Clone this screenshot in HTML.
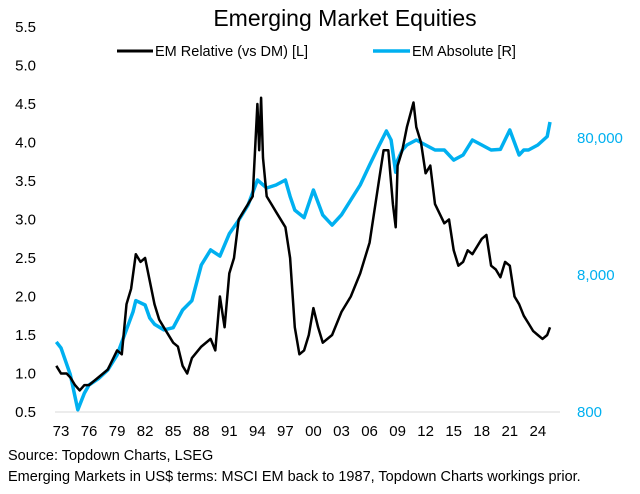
<!DOCTYPE html>
<html><head><meta charset="utf-8"><style>
body{margin:0;background:#fff;width:640px;height:489px;overflow:hidden;font-family:"Liberation Sans",Arial,sans-serif}
</style></head><body>
<svg id="chart" width="640" height="489" xmlns="http://www.w3.org/2000/svg" font-family="Liberation Sans, Arial, sans-serif">
<text x="345" y="26" font-size="23" text-anchor="middle" fill="#000">Emerging Market Equities</text>
<g>
<line x1="117" y1="51" x2="153" y2="51" stroke="#000" stroke-width="3"/>
<text x="155" y="56" font-size="14.5">EM Relative (vs DM) [L]</text>
<line x1="373" y1="51" x2="410" y2="51" stroke="#00b0f0" stroke-width="3.5"/>
<text x="412" y="56" font-size="14.5">EM Absolute [R]</text>
</g>
<line x1="55" y1="412" x2="560" y2="412" stroke="#d9d9d9" stroke-width="1"/>
<g id="axes"></g>
<g id="series"></g>
<text x="8" y="460" font-size="14.5">Source: Topdown Charts, LSEG</text>
<text x="8" y="481" font-size="14.5">Emerging Markets in US$ terms: MSCI EM back to 1987, Topdown Charts workings prior.</text>
</svg>
<script>
const relYears=[1972.5,1973,1973.6,1974,1974.5,1975,1975.5,1976,1977,1978,1979,1979.5,1980,1980.5,1981,1981.5,1982,1982.5,1983,1983.5,1984,1985,1985.5,1986,1986.5,1987,1988,1989,1989.5,1990,1990.5,1991,1991.5,1992,1992.5,1993,1993.5,1994,1994.2,1994.4,1994.6,1995,1995.5,1996,1997,1997.5,1998,1998.5,1999,1999.5,2000,2000.5,2001,2002,2003,2004,2005,2006,2007,2007.5,2008,2008.5,2008.8,2009,2009.5,2010,2010.7,2011,2011.5,2012,2012.5,2013,2014,2014.5,2015,2015.5,2016,2016.5,2017,2018,2018.5,2019,2019.5,2020,2020.5,2021,2021.5,2022,2022.5,2023,2023.5,2024,2024.5,2025,2025.3];
const relValues=[1.1,1.0,1.0,0.95,0.85,0.78,0.85,0.85,0.95,1.05,1.3,1.25,1.9,2.1,2.55,2.45,2.5,2.2,1.9,1.7,1.6,1.4,1.35,1.1,1.0,1.2,1.35,1.45,1.3,2.0,1.6,2.3,2.5,3.0,3.1,3.2,3.3,4.5,3.9,4.58,3.8,3.3,3.2,3.1,2.9,2.5,1.6,1.25,1.3,1.5,1.85,1.6,1.4,1.5,1.8,2.0,2.3,2.7,3.5,3.9,3.9,3.2,2.9,3.7,3.9,4.2,4.52,4.2,4.0,3.6,3.7,3.2,2.95,3.0,2.6,2.4,2.45,2.6,2.55,2.75,2.8,2.4,2.35,2.25,2.45,2.4,2.0,1.9,1.75,1.65,1.55,1.5,1.45,1.5,1.6];
const absYears=[1972.5,1973,1974,1974.8,1975.5,1976,1977,1978,1979,1980,1980.7,1981,1982,1982.5,1983,1984,1985,1986,1987,1988,1989,1990,1991,1992,1993,1994,1995,1996,1997,1997.5,1998,1999,2000,2001,2002,2003,2004,2005,2006,2007,2007.8,2008.3,2008.8,2009,2009.5,2010,2011,2012,2013,2014,2015,2016,2017,2018,2019,2020,2021,2022,2022.5,2023,2024,2025,2025.3];
const absValues=[2600,2350,1500,830,1100,1260,1400,1620,2090,3200,4300,5200,4830,3880,3500,3180,3300,4440,5200,9470,12200,11000,16000,20100,25900,39500,34500,36300,39500,30000,23800,21000,33400,21900,18500,22000,28200,36300,50800,70000,90000,77300,45000,55000,65400,71100,77300,71100,65400,65400,55200,60100,77300,71100,65400,66000,91500,60100,65400,65400,71100,82000,104700];
const leftTicks=[0.5,1.0,1.5,2.0,2.5,3.0,3.5,4.0,4.5,5.0,5.5];
const rightTicks=[800,8000,80000];
const rightLabels=["800","8,000","80,000"];
const xTicks=[1973,1976,1979,1982,1985,1988,1991,1994,1997,2000,2003,2006,2009,2012,2015,2018,2021,2024];
const xLabels=["73","76","79","82","85","88","91","94","97","00","03","06","09","12","15","18","21","24"];

const NS="http://www.w3.org/2000/svg";
function xs(y){return 61+(y-1973)*9.35;}
function yl(v){return 412-(v-0.5)*77;}
function yr(v){return 412-Math.log10(v/800)*137;}
const axes=document.getElementById('axes'), series=document.getElementById('series');
function txt(x,y,s,anchor,fill,name){const t=document.createElementNS(NS,'text');t.setAttribute('x',x);t.setAttribute('y',y);t.setAttribute('font-size','15');t.setAttribute('text-anchor',anchor);t.setAttribute('fill',fill);t.textContent=s;


axes.appendChild(t);}
leftTicks.forEach(v=>txt(36,yl(v)+5,v.toFixed(1),'end','#000','left-axis-tick-label'));
rightTicks.forEach((v,i)=>txt(577,yr(v)+5,rightLabels[i],'start','#00b0f0','right-axis-tick-label'));
xTicks.forEach((v,i)=>txt(xs(v),436,xLabels[i],'middle','#000','x-axis-tick-label'));
function line(xa,ya,f,color,w,name){const p=document.createElementNS(NS,'path');
p.setAttribute('d',xa.map((x,i)=>(i?'L':'M')+xs(x).toFixed(1)+','+f(ya[i]).toFixed(1)).join(''));
p.setAttribute('fill','none');p.setAttribute('stroke',color);p.setAttribute('stroke-width',w);p.setAttribute('stroke-linejoin','round');


series.appendChild(p);}
line(absYears,absValues,yr,'#00b0f0',3.5,'em-absolute-line');
line(relYears,relValues,yl,'#000',2.5,'em-relative-line');
</script>
</body></html>
